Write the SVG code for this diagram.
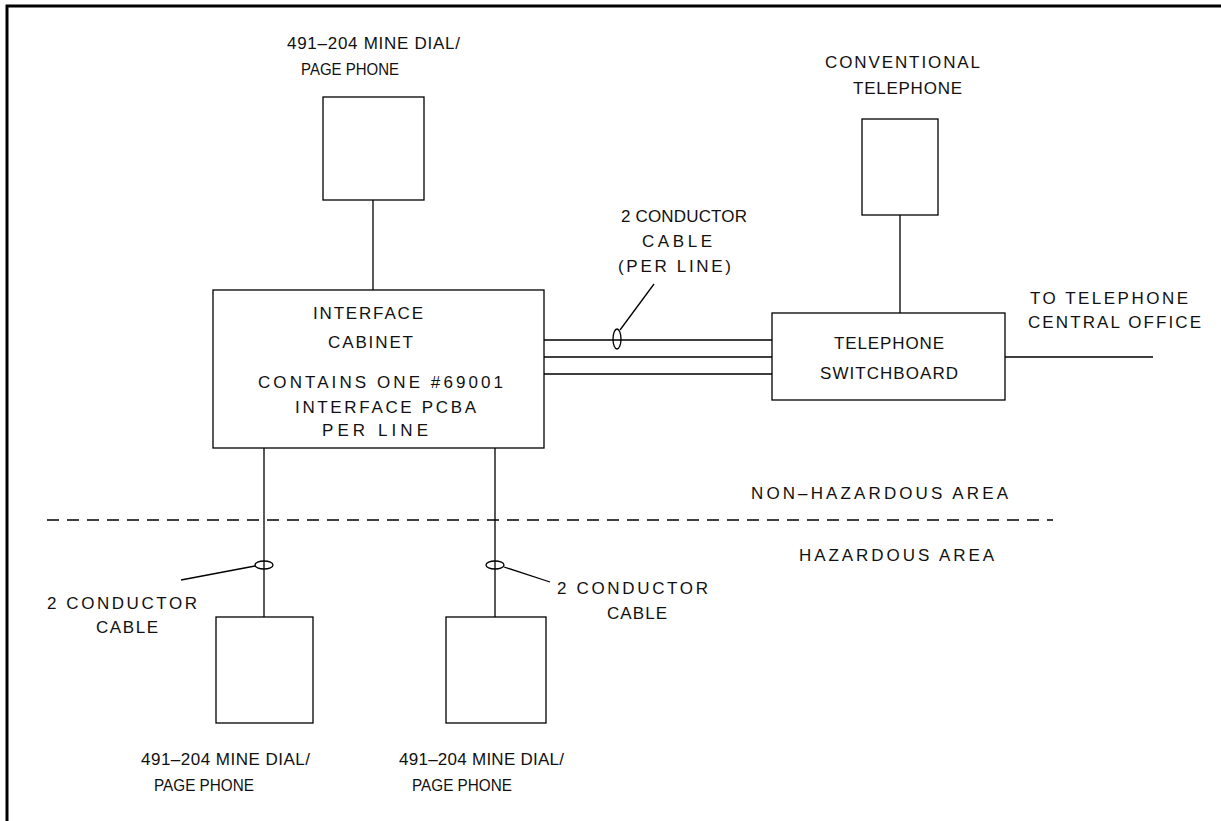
<svg xmlns="http://www.w3.org/2000/svg" width="1221" height="821" viewBox="0 0 1221 821">
<style>
.b{fill:none;stroke:#000;stroke-width:1.3}
.l{fill:none;stroke:#000;stroke-width:1.3}
.t{font-family:"Liberation Sans",Arial,sans-serif;font-size:17px;fill:#111}
</style>
<rect width="1221" height="821" fill="#fff"/>
<path d="M7 821V6H1221" fill="none" stroke="#000" stroke-width="3"/>
<g id="connectors">
<path class="l" d="M373 200V290"/>
<path class="l" d="M900 215V313"/>
<path class="l" d="M544 340H772M544 357H772M544 374H772"/>
<path class="l" d="M1005 357H1153"/>
<path class="l" d="M264 448V617"/>
<path class="l" d="M495 448V617"/>
<path class="l" d="M47 520H1053" stroke-dasharray="12 8"/>
<ellipse class="l" cx="617" cy="339" rx="4" ry="10"/>
<path class="l" d="M620 330L654 284"/>
<ellipse class="l" cx="264" cy="565" rx="9" ry="4"/>
<path class="l" d="M255 566L181 580"/>
<ellipse class="l" cx="495" cy="565" rx="9" ry="4"/>
<path class="l" d="M504 567L550 582"/>
</g>
<g id="phone-top">
<rect class="b" x="323" y="97" width="101" height="103"/>
<text class="t" x="287" y="49" textLength="173">491–204 MINE DIAL/</text>
<text class="t" x="301" y="75" textLength="98" lengthAdjust="spacingAndGlyphs">PAGE PHONE</text>
</g>
<g id="cabinet">
<rect class="b" x="213" y="290" width="331" height="158"/>
<text class="t" x="313" y="319" textLength="110">INTERFACE</text>
<text class="t" x="328" y="348" textLength="85">CABINET</text>
<text class="t" x="258" y="388" textLength="245">CONTAINS ONE #69001</text>
<text class="t" x="295" y="413" textLength="181">INTERFACE PCBA</text>
<text class="t" x="322" y="436" textLength="106">PER LINE</text>
</g>
<g id="conv-phone">
<rect class="b" x="862" y="119" width="76" height="96"/>
<text class="t" x="825" y="68" textLength="155">CONVENTIONAL</text>
<text class="t" x="853" y="94" textLength="109">TELEPHONE</text>
</g>
<g id="switchboard">
<rect class="b" x="772" y="313" width="233" height="87"/>
<text class="t" x="834" y="349" textLength="110">TELEPHONE</text>
<text class="t" x="820" y="379" textLength="138">SWITCHBOARD</text>
</g>
<g id="cable-label-top">
<text class="t" x="621" y="222" textLength="126">2 CONDUCTOR</text>
<text class="t" x="642" y="247" textLength="70">CABLE</text>
<text class="t" x="618" y="272" textLength="113">(PER LINE)</text>
</g>
<g id="central-office">
<text class="t" x="1030" y="304" textLength="158">TO TELEPHONE</text>
<text class="t" x="1028" y="328" textLength="173">CENTRAL OFFICE</text>
</g>
<g id="areas">
<text class="t" x="751" y="499" textLength="257">NON–HAZARDOUS AREA</text>
<text class="t" x="799" y="561" textLength="195">HAZARDOUS AREA</text>
</g>
<g id="cable-label-left">
<text class="t" x="47" y="609" textLength="150">2 CONDUCTOR</text>
<text class="t" x="96" y="633" textLength="62">CABLE</text>
</g>
<g id="cable-label-right">
<text class="t" x="557" y="594" textLength="151">2 CONDUCTOR</text>
<text class="t" x="607" y="619" textLength="60">CABLE</text>
</g>
<g id="phone-left">
<rect class="b" x="216" y="617" width="97" height="106"/>
<text class="t" x="141" y="765" textLength="169">491–204 MINE DIAL/</text>
<text class="t" x="154" y="791" textLength="100" lengthAdjust="spacingAndGlyphs">PAGE PHONE</text>
</g>
<g id="phone-right">
<rect class="b" x="446" y="617" width="100" height="106"/>
<text class="t" x="399" y="765" textLength="165">491–204 MINE DIAL/</text>
<text class="t" x="412" y="791" textLength="100" lengthAdjust="spacingAndGlyphs">PAGE PHONE</text>
</g>
</svg>
